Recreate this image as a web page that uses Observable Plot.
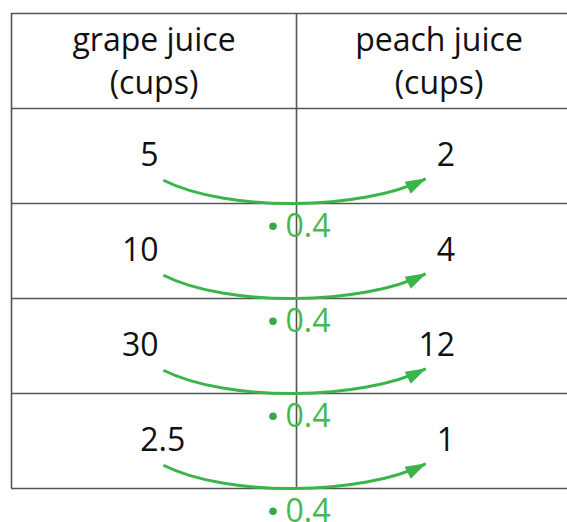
<!DOCTYPE html>
<html>
<head>
<meta charset="utf-8">
<script src="https://cdn.jsdelivr.net/npm/d3@7"></script>
<script src="https://cdn.jsdelivr.net/npm/@observablehq/plot@0.6"></script>
<style>
  html, body { margin: 0; padding: 0; background: #fff; overflow: hidden; }
  #chart svg { display: block; }
</style>
</head>
<body>
<div id="chart"></div>
<script>
// ---- data ----
const headers = ["grape juice\n(cups)", "peach juice\n(cups)"];
const grapeCups = ["5", "10", "30", "2.5"];
const peachCups = ["2", "4", "12", "1"];
const factors = [0.4, 0.4, 0.4, 0.4];

// ---- style ----
const GREEN = "#3bb54a";
const LINE = "#555555";
const FONT = "'Open Sans', 'Noto Sans', sans-serif";
const FS = 32;

const nRows = grapeCups.length;
const rowIdx = d3.range(nRows);

// split numbers into integer and fractional part for decimal alignment
const split = (s) => { const i = s.indexOf("."); return i < 0 ? [s, ""] : [s.slice(0, i), s.slice(i)]; };
const cells = [];
rowIdx.forEach(r => {
  [grapeCups[r], peachCups[r]].forEach((v, c) => {
    const [ip, fp] = split(v);
    cells.push({row: r + 1, col: c, ip, fp});
  });
});
const arrows = rowIdx.map(r => ({row: r + 1, f: factors[r]}));

// custom curve: sagging cubic between two points
function sagCurve(context) {
  let pts = [];
  return {
    areaStart() {}, areaEnd() {},
    lineStart() { pts = []; },
    point(x, y) { pts.push([+x, +y]); },
    lineEnd() {
      const a = pts[0], b = pts[pts.length - 1];
      const c = 64, k = 32;
      context.moveTo(a[0], a[1]);
      context.bezierCurveTo(a[0] + c, a[1] + k, b[0] - c, b[1] + k, b[0], b[1]);
    }
  };
}

const chart = Plot.plot({
  width: 567,
  height: 522,
  margin: 0,
  style: {fontFamily: FONT, background: "#fff", overflow: "visible"},
  x: {domain: [0, 2], range: [11, 581], axis: null},
  y: {domain: [0, nRows + 1], range: [13, 488], axis: null},
  marks: [
    // table grid
    Plot.ruleY(d3.range(nRows + 2), {y: d => d, x1: 0, x2: 2, stroke: LINE, strokeWidth: 1.6}),
    Plot.ruleX([0, 1, 2], {x: d => d, y1: 0, y2: nRows + 1, stroke: LINE, strokeWidth: 1.6}),
    // headers
    Plot.text(headers, {x: (d, i) => i + 0.5, y: 0.5, text: d => d, fontSize: FS, lineHeight: 1.33, dy: -2, fill: "#111", lineAnchor: "middle"}),
    // arrows
    Plot.link(arrows, {x1: 0.533, y1: d => d.row + 0.755, x2: 1.453, y2: d => d.row + 0.74, curve: sagCurve, stroke: GREEN, strokeWidth: 3, fill: "none"}),
    // integer parts (right-aligned)
    Plot.text(cells.filter(d => d.col === 0), {x: 0.5, y: d => d.row + 0.5, text: "ip", textAnchor: "end", dx: 4.5, fontSize: FS, fill: "#111"}),
    Plot.text(cells.filter(d => d.col === 1), {x: 1.5, y: d => d.row + 0.5, text: "ip", textAnchor: "end", dx: 16, fontSize: FS, fill: "#111"}),
    // fractional parts
    Plot.text(cells.filter(d => d.col === 0 && d.fp), {x: 0.5, y: d => d.row + 0.5, text: "fp", textAnchor: "start", dx: 4.5, fontSize: FS, fill: "#111"}),
    Plot.text(cells.filter(d => d.col === 1 && d.fp), {x: 1.5, y: d => d.row + 0.5, text: "fp", textAnchor: "start", dx: 16, fontSize: FS, fill: "#111"}),
    // factor labels
    Plot.dot(arrows, {x: 1, y: d => d.row + 1.24, r: 3.8, fill: "#3aa84a", dx: -23.5}),
    Plot.text(arrows, {x: 1, y: d => d.row + 1.24, text: d => String(d.f), textAnchor: "start", dx: -11, fontSize: FS, fill: "#45b94f"})
  ]
});

// filled arrowheads
const svg = d3.select(chart);
const defs = svg.insert("defs", ":first-child");
defs.append("marker")
  .attr("id", "ghead")
  .attr("markerUnits", "userSpaceOnUse")
  .attr("orient", "auto")
  .attr("markerWidth", 30).attr("markerHeight", 30)
  .attr("refX", 0).attr("refY", 0)
  .attr("viewBox", "-25 -15 30 30")
  .attr("overflow", "visible")
  .append("path")
  .attr("d", "M1,0L-20,-6.8L-20,6.8Z")
  .attr("fill", GREEN);
svg.selectAll('g[aria-label="link"] path').attr("marker-end", "url(#ghead)");

document.getElementById("chart").appendChild(chart);
</script>
</body>
</html>
